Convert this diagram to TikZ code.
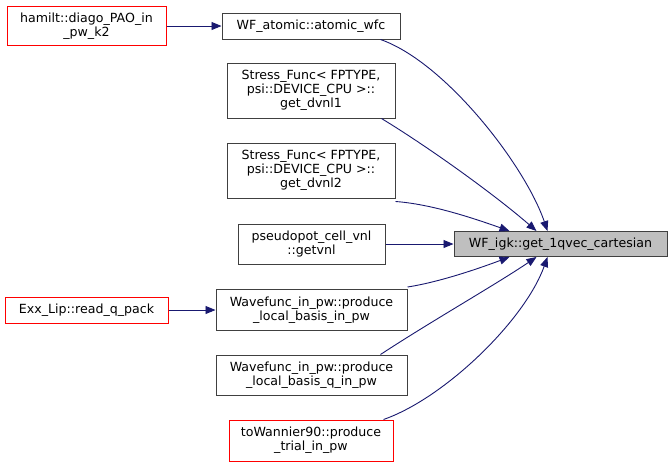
\documentclass[tikz,border=0pt]{standalone}
\usepackage{fontspec}
\setmainfont{DejaVu Sans}
\usetikzlibrary{arrows.meta}
\definecolor{edgeblue}{HTML}{191970}
\definecolor{boxgray}{HTML}{404040}
\definecolor{boxred}{HTML}{FF0000}
\definecolor{fillgray}{HTML}{BFBFBF}
\tikzset{
  fn/.style={draw=boxgray, line width=1pt, fill=white, align=center, inner sep=0pt, font=\fontsize{12.6}{14}\selectfont},
  fnred/.style={fn, draw=boxred},
  fncur/.style={fn, fill=fillgray},
  call/.style={draw=edgeblue, line width=0.9pt, -{Triangle[length=10pt,width=8pt]}},
}
\begin{document}
\begin{tikzpicture}[x=1pt,y=-1pt]
\useasboundingbox (0,0) rectangle (672,467);
\fill[white] (0,0) rectangle (672,467);
\node[fnred, minimum width=159pt, minimum height=39pt] (ham) at (86.5,26) {hamilt::diago\_PAO\_in\\\_pw\_k2};
\node[fn, minimum width=178pt, minimum height=26pt] (wfa) at (311,26) {WF\_atomic::atomic\_wfc};
\node[fn, minimum width=168pt, minimum height=55pt] (sf1) at (311,90.5) {Stress\_Func< FPTYPE,\\psi::DEVICE\_CPU >::\\get\_dvnl1};
\node[fn, minimum width=168pt, minimum height=55pt] (sf2) at (311,170.5) {Stress\_Func< FPTYPE,\\psi::DEVICE\_CPU >::\\get\_dvnl2};
\node[fn, minimum width=147pt, minimum height=40pt] (pp) at (311.5,244) {pseudopot\_cell\_vnl\\::getvnl};
\node[fnred, minimum width=163pt, minimum height=26pt] (exx) at (86.5,310) {Exx\_Lip::read\_q\_pack};
\node[fn, minimum width=191pt, minimum height=41pt] (wf1) at (311.5,310) {Wavefunc\_in\_pw::produce\\\_local\_basis\_in\_pw};
\node[fn, minimum width=191pt, minimum height=40pt] (wf2) at (311.5,375) {Wavefunc\_in\_pw::produce\\\_local\_basis\_q\_in\_pw};
\node[fnred, minimum width=164pt, minimum height=41pt] (tw) at (311,440.5) {toWannier90::produce\\\_trial\_in\_pw};
\node[fncur, minimum width=213pt, minimum height=25pt] (igk) at (560.5,244) {WF\_igk::get\_1qvec\_cartesian};
\draw[call] (ham.east) -- (wfa.west);
\draw[call] (exx.east) -- (wf1.west);
\draw[call] ([xshift=-20pt]wfa.south east) .. controls (445,62) and (525,165) .. ([xshift=94pt]igk.north west);
\draw[call] ([xshift=-14pt]sf1.south east) .. controls (430,148) and (495,195) .. ([xshift=83pt]igk.north west);
\draw[call] ([yshift=-3pt]sf2.south east) .. controls (430,204) and (470,217) .. ([xshift=56pt]igk.north west);
\draw[call] (pp.east) -- (igk.west);
\draw[call] ([yshift=2pt]wf1.north east) .. controls (440,282) and (480,268) .. ([xshift=56pt]igk.south west);
\draw[call] ([xshift=-27pt]wf2.north east) .. controls (430,322) and (495,285) .. ([xshift=83pt]igk.south west);
\draw[call] ([xshift=-10pt]tw.north east) .. controls (445,398) and (525,320) .. ([xshift=94pt]igk.south west);
\end{tikzpicture}
\end{document}
